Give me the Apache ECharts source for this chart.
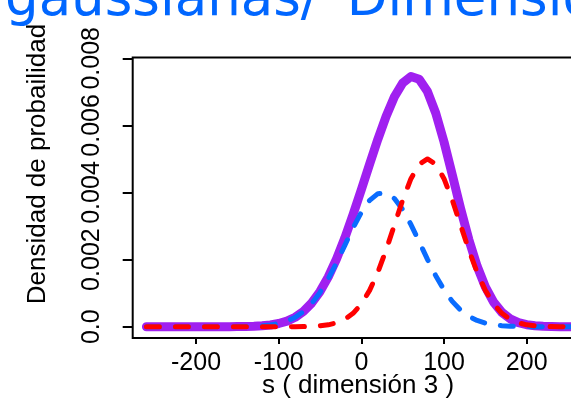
<!DOCTYPE html>
<html>
<head>
<meta charset="utf-8">
<script src="https://cdn.jsdelivr.net/npm/echarts@6/dist/echarts.min.js"></script>
<style>
  html, body { margin: 0; padding: 0; background: #fff; }
  #chart { width: 571px; height: 399px; }
</style>
</head>
<body>
<div id="chart"></div>
<script>
// s positions where the densities are sampled (step 10)
const sValues = [
  -260, -250, -240, -230, -220, -210, -200, -190, -180, -170,
  -160, -150, -140, -130, -120, -110, -100, -90, -80, -70,
  -60, -50, -40, -30, -20, -10, 0, 10, 20, 30,
  40, 50, 60, 70, 80, 90, 100, 110, 120, 130,
  140, 150, 160, 170, 180, 190, 200, 210, 220, 230,
  240, 250, 260];

// first component (blue, dashed)
const blueDensity = [
  0, 0, 0, 0, 0, 0, 0, 0.0000001, 0.0000002, 0.0000005,
  0.0000011, 0.0000026, 0.000006, 0.0000127, 0.000026, 0.0000506, 0.000094, 0.000166, 0.000281, 0.000453,
  0.000696, 0.001022, 0.001429, 0.001906, 0.002426, 0.002945, 0.003410, 0.003765, 0.003966, 0.003985,
  0.003819, 0.003491, 0.003044, 0.002532, 0.002008, 0.001520, 0.001097, 0.000755, 0.000496, 0.000310,
  0.000186, 0.000106, 0.000057, 0.0000298, 0.000015, 0.000007, 0.000003, 0.0000013, 0.0000006, 0.0000002,
  0, 0, 0];

// second component (red, dashed)
const redDensity = [
  0, 0, 0, 0, 0, 0, 0, 0, 0, 0,
  0, 0, 0, 0, 0, 0.0000001, 0.0000002, 0.0000006, 0.0000017, 0.0000044,
  0.000011, 0.0000254, 0.000056, 0.000114, 0.000220, 0.000398, 0.000677, 0.001082, 0.001623, 0.002290,
  0.003033, 0.003774, 0.004412, 0.004846, 0.005000, 0.004846, 0.004412, 0.003774, 0.003033, 0.002290,
  0.001623, 0.001082, 0.000677, 0.000398, 0.000220, 0.000114, 0.000056, 0.0000254, 0.000011, 0.0000044,
  0.0000017, 0.0000006, 0.0000002];

// mixture (purple, thick solid)
const mixDensity = [
  0, 0, 0, 0, 0, 0, 0, 0.0000001, 0.0000002, 0.0000005,
  0.0000011, 0.0000026, 0.000006, 0.0000127, 0.000026, 0.0000507, 0.0000942, 0.0001666, 0.0002827, 0.0004574,
  0.000707, 0.0010474, 0.001485, 0.002020, 0.002646, 0.003343, 0.004087, 0.004847, 0.005589, 0.006275,
  0.006852, 0.007265, 0.007456, 0.007378, 0.007008, 0.006366, 0.005509, 0.004529, 0.003529, 0.002600,
  0.001809, 0.001188, 0.000734, 0.000428, 0.000235, 0.000121, 0.000059, 0.0000267, 0.0000116, 0.0000046,
  0.0000017, 0.0000006, 0.0000002];

// axis ticks and their labels
const xTicks = [-200, -100, 0, 100, 200];
const xTickLabels = ['-200', '-100', '0', '100', '200'];
const yTicks = [0, 0.002, 0.004, 0.006, 0.008];
const yTickLabels = ['0.0', '0.002', '0.004', '0.006', '0.008'];

const titleLeft = 'gaussianas/';
const titleRight = 'Dimensión 3';
const xName = 's ( dimensión 3 )';
const yName = 'Densidad de probailidad';

const pairs = (ys) => sValues.map((s, i) => [s, ys[i]]);

const chart = echarts.init(document.getElementById('chart'), null, { renderer: 'canvas' });

const axisFont = '"Liberation Sans", Arial, Helvetica, sans-serif';

chart.setOption({
  animation: false,
  backgroundColor: '#ffffff',
  grid: {
    left: 132.7, top: 57.5, right: -12.3, bottom: 61,
    outerBoundsMode: 'none',
    containLabel: false,
    show: true, borderColor: '#000', borderWidth: 2, backgroundColor: 'transparent'
  },
  xAxis: {
    type: 'value',
    min: -276.6, max: 268.5,
    axisLine: { show: false, onZero: false },
    splitLine: { show: false },
    axisTick: { show: true, length: 6, lineStyle: { color: '#000', width: 2 }, customValues: xTicks },
    axisLabel: {
      customValues: xTicks,
      formatter: (v) => xTickLabels[xTicks.indexOf(v)] ?? String(v),
      color: '#000', fontFamily: axisFont, fontSize: 25, margin: 13,
      verticalAlign: 'top', lineHeight: 25
    }
  },
  yAxis: {
    type: 'value',
    min: -0.000337, max: 0.008024,
    axisLine: { show: false, onZero: false },
    splitLine: { show: false },
    axisTick: { show: true, length: 10, lineStyle: { color: '#000', width: 2 }, customValues: yTicks },
    axisLabel: {
      customValues: yTicks,
      rotate: 90,
      formatter: (v) => {
        const i = yTicks.findIndex(t => Math.abs(t - v) < 1e-9);
        return i >= 0 ? yTickLabels[i] : String(v);
      },
      color: '#000', fontFamily: axisFont, fontSize: 25, margin: 28
    }
  },
  graphic: [
    {
      type: 'text',
      x: 5, y: 1,
      silent: true,
      style: {
        text: '{a|' + titleLeft + '}{b|' + titleRight + '}',
        verticalAlign: 'middle',
        rich: {
          a: { fill: '#0066ff', font: '53px "DejaVu Sans", sans-serif' },
          b: { fill: '#0066ff', font: '53px "DejaVu Sans", sans-serif', padding: [0, 0, 0, 28] }
        }
      }
    },
    {
      type: 'text',
      x: 358, y: 386,
      silent: true,
      style: {
        text: xName,
        fill: '#000',
        font: '26px "Liberation Sans", Arial, sans-serif',
        align: 'center',
        verticalAlign: 'middle'
      }
    },
    {
      type: 'text',
      x: 37.5, y: 164,
      rotation: Math.PI / 2,
      silent: true,
      style: {
        text: yName,
        fill: '#000',
        font: '26px "Liberation Sans", Arial, sans-serif',
        align: 'center',
        verticalAlign: 'middle'
      }
    }
  ],
  series: [
    {
      name: 'mezcla', type: 'line', data: pairs(mixDensity),
      showSymbol: false, smooth: false,
      lineStyle: { color: '#a020f0', width: 9, cap: 'round', join: 'round' },
      z: 2
    },
    {
      name: 'componente 1', type: 'line', data: pairs(blueDensity),
      showSymbol: false, smooth: false,
      lineStyle: { color: '#0a6cff', width: 5, type: [13, 16], cap: 'round', join: 'round' },
      z: 3
    },
    {
      name: 'componente 2', type: 'line', data: pairs(redDensity),
      showSymbol: false, smooth: false,
      lineStyle: { color: '#ff0000', width: 5, type: [13, 16], cap: 'round', join: 'round' },
      z: 4
    }
  ]
});
</script>
</body>
</html>
